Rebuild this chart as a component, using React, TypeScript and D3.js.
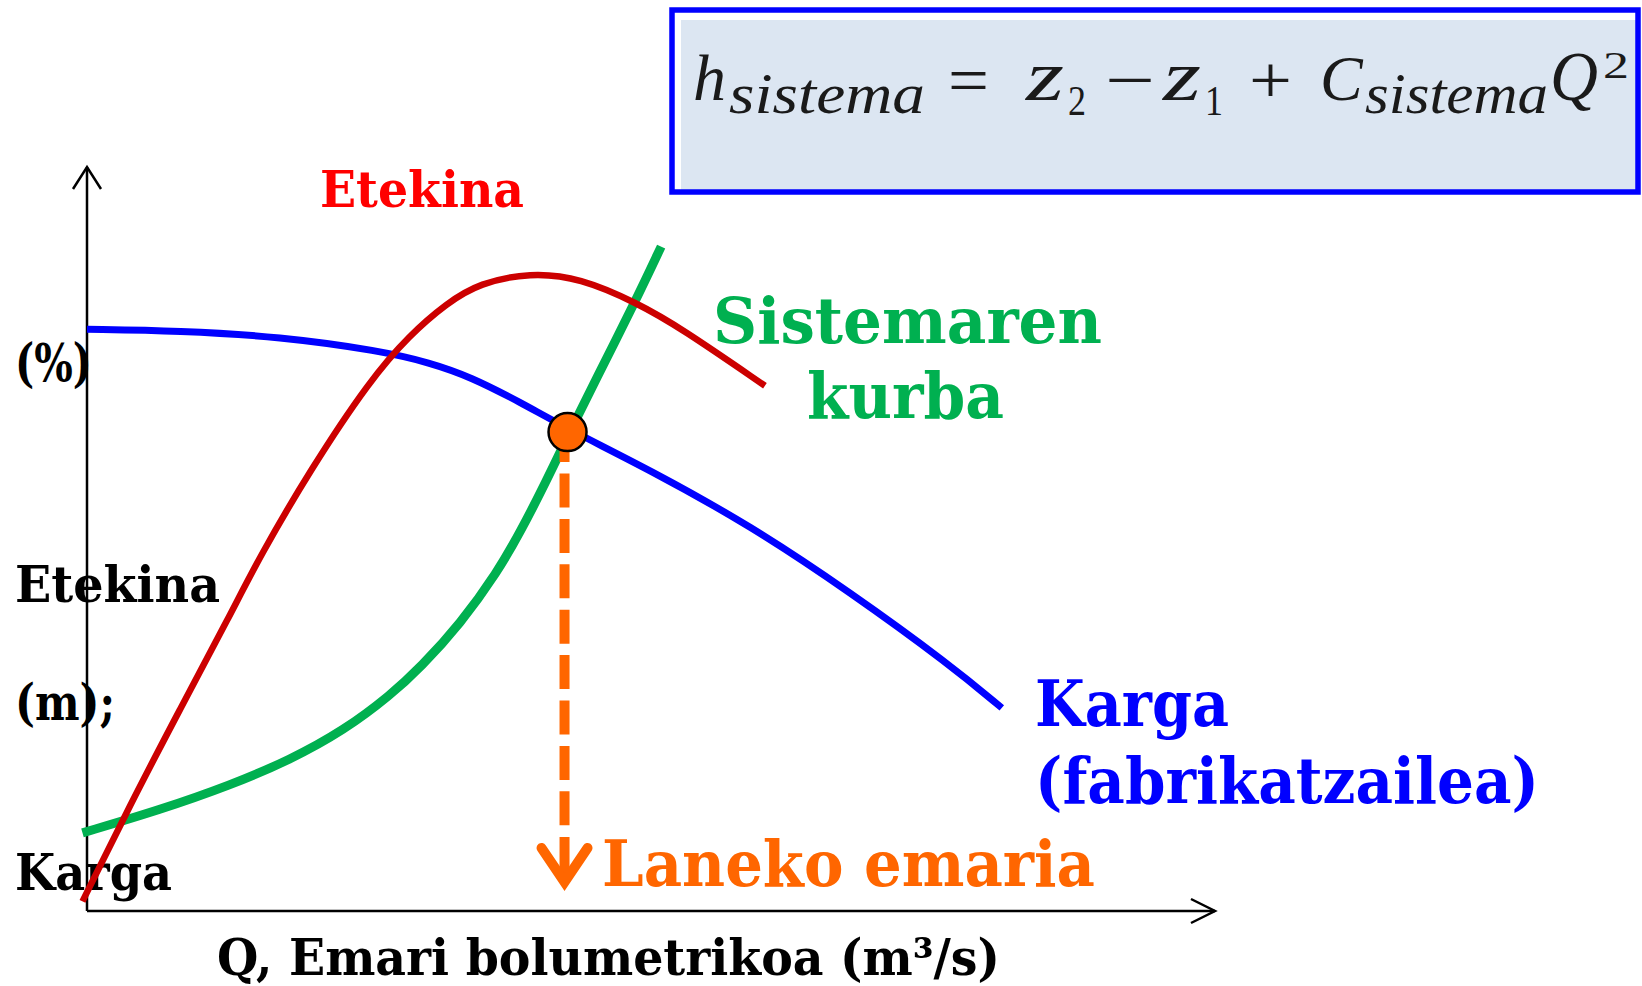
import React from "react";
import * as d3 from "d3";

// ---- data (schematic units 0..100) ----
const qKarga = [0, 8.2, 17.1, 26.0, 30.4, 34.0, 38.4, 42.6, 49.9, 58.8, 67.6, 76.5, 81.1];
const hKarga = [78.2, 78.0, 77.2, 75.3, 73.7, 71.8, 68.4, 64.8, 59.3, 51.8, 42.9, 33.1, 27.3];

const qEtekina = [-0.4, 3.8, 8.2, 12.7, 15.3, 19.8, 25.1, 28.6, 31.9, 34.8, 39.3, 43.7, 48.8, 52.6, 60.1];
const etaEtekina = [1.3, 14.2, 27.0, 39.8, 47.6, 59.3, 71.4, 77.4, 81.7, 84.4, 85.8, 85.1, 81.7, 78.4, 70.6];

const qSistema = [-0.4, 6.5, 12.7, 18.0, 22.8, 26.9, 29.6, 33.1, 36.4, 38.4, 40.7, 42.6, 45.1, 48.6, 50.9];
const hSistema = [10.5, 13.6, 16.9, 20.3, 24.3, 29.0, 32.8, 38.6, 45.6, 50.9, 57.7, 63.8, 71.4, 81.9, 89.3];

const operatingQ = [42.6];
const operatingH = [64.5];

const yAxisLabels = ["(%)", "Etekina", "(m);", "Karga"];
const xAxisLabel = "Q, Emari bolumetrikoa (m³/s)";
const etekinaLabel = "Etekina";
const sistemaLabel = ["Sistemaren", "kurba"];
const kargaLabel = ["Karga", "(fabrikatzailea)"];
const lanekoLabel = "Laneko emaria";

const W = 1642;
const H = 986;

const x = d3.scaleLinear().domain([0, 100]).range([87, 1215]);
const y = d3.scaleLinear().domain([0, 100]).range([911, 167]);

const line = d3
  .line<[number, number]>()
  .x((d) => x(d[0]))
  .y((d) => y(d[1]))
  .curve(d3.curveBasis);

const zip = (a: number[], b: number[]) => a.map((v, i) => [v, b[i]] as [number, number]);

const SLAB = "'DejaVu Serif', serif";
const MATH = "'Liberation Serif', 'DejaVu Serif', serif";

function T(props: {
  x: number;
  y: number;
  w: number;
  size: number;
  fill: string;
  children: string;
}) {
  return (
    <text
      x={props.x}
      y={props.y}
      fontSize={props.size}
      fontFamily={SLAB}
      fontWeight="bold"
      fill={props.fill}
      textLength={props.w}
      lengthAdjust="spacingAndGlyphs"
    >
      {props.children}
    </text>
  );
}

function M(props: {
  x: number;
  y: number;
  w?: number;
  size: number;
  italic?: boolean;
  children: string;
}) {
  return (
    <text
      x={props.x}
      y={props.y}
      fontSize={props.size}
      fontFamily={MATH}
      fontStyle={props.italic === false ? "normal" : "italic"}
      fill="#1a1a1a"
      textLength={props.w}
      lengthAdjust={props.w ? "spacingAndGlyphs" : undefined}
    >
      {props.children}
    </text>
  );
}

export default function App() {
  const x0 = x(0);
  const y0 = y(0);
  const xEnd = x(100);
  const yEnd = y(100);
  const px = x(operatingQ[0]);
  const py = y(operatingH[0]);

  return (
    <svg
      width={W}
      height={H}
      style={{ position: "absolute", left: 0, top: 0, background: "#fff" }}
    >
      <rect x={0} y={0} width={W} height={H} fill="#ffffff" />

      {/* formula box */}
      <rect x={672} y={10} width={966} height={182} fill="#ffffff" stroke="none" />
      <rect x={681} y={20} width={955} height={170} fill="#dce6f2" />
      <rect x={672} y={10} width={966} height={182} fill="none" stroke="#0000ff" strokeWidth={5.5} />
      <M x={693} y={100} size={66}>h</M>
      <M x={729} y={113} w={196} size={58}>sistema</M>
      <M x={948} y={103} w={41} size={68} italic={false}>=</M>
      <M x={1026} y={100} w={38} size={72}>z</M>
      <M x={1068} y={115} w={18} size={42} italic={false}>2</M>
      <M x={1105} y={103} w={50} size={68} italic={false}>−</M>
      <M x={1163} y={100} w={38} size={72}>z</M>
      <M x={1205} y={115} w={18} size={42} italic={false}>1</M>
      <M x={1249} y={103} w={43} size={68} italic={false}>+</M>
      <M x={1320} y={100} size={64}>C</M>
      <M x={1365} y={113} w={183} size={58}>sistema</M>
      <M x={1550} y={100} w={48} size={70}>Q</M>
      <M x={1603} y={78} w={26} size={38} italic={false}>2</M>

      {/* y-axis labels */}
      <T x={15} y={381} w={77} size={52} fill="#000">{yAxisLabels[0]}</T>
      <T x={15} y={602} w={205} size={50} fill="#000">{yAxisLabels[1]}</T>
      <T x={15} y={720} w={100} size={50} fill="#000">{yAxisLabels[2]}</T>
      <T x={15} y={890} w={157} size={50} fill="#000">{yAxisLabels[3]}</T>

      {/* x-axis label */}
      <T x={217} y={975} w={783} size={50} fill="#000">{xAxisLabel}</T>

      {/* curve labels */}
      <T x={320} y={207} w={204} size={51} fill="#ff0000">{etekinaLabel}</T>
      <T x={713} y={343} w={389} size={63} fill="#00b050">{sistemaLabel[0]}</T>
      <T x={807} y={418} w={197} size={63} fill="#00b050">{sistemaLabel[1]}</T>
      <T x={1035} y={726} w={194} size={63} fill="#0000ff">{kargaLabel[0]}</T>
      <T x={1035} y={803} w={504} size={63} fill="#0000ff">{kargaLabel[1]}</T>
      <T x={602} y={886} w={493} size={63} fill="#ff6600">{lanekoLabel}</T>

      {/* axes */}
      <g stroke="#000" strokeWidth={2.5} fill="none">
        <line x1={x0} y1={y0} x2={x0} y2={yEnd} />
        <line x1={x0} y1={y0} x2={xEnd} y2={y0} />
        <polyline points={`${x0 - 14},${yEnd + 22} ${x0},${yEnd} ${x0 + 14},${yEnd + 22}`} />
        <polyline points={`${xEnd - 24},${y0 - 12} ${xEnd},${y0} ${xEnd - 24},${y0 + 12}`} />
      </g>

      {/* curves */}
      <path d={line(zip(qKarga, hKarga)) || ""} fill="none" stroke="#0000ff" strokeWidth={7} />
      <path d={line(zip(qSistema, hSistema)) || ""} fill="none" stroke="#00b050" strokeWidth={9} />
      <path d={line(zip(qEtekina, etaEtekina)) || ""} fill="none" stroke="#cc0000" strokeWidth={6.5} />

      {/* operating point drop line */}
      <g stroke="#ff6600" strokeWidth={10} fill="none">
        <line x1={px - 3} y1={py - 3} x2={px - 3} y2={826} strokeDasharray="34 11.4" />
        <line x1={px - 3} y1={837} x2={px - 3} y2={878} />
        <polyline
          points={`${px - 26},${848} ${px - 3},${882} ${px + 20},${848}`}
          strokeLinecap="round"
          strokeLinejoin="miter"
        />
      </g>
      <circle cx={px} cy={py + 1} r={19} fill="#ff6600" stroke="#000" strokeWidth={2.5} />
    </svg>
  );
}
